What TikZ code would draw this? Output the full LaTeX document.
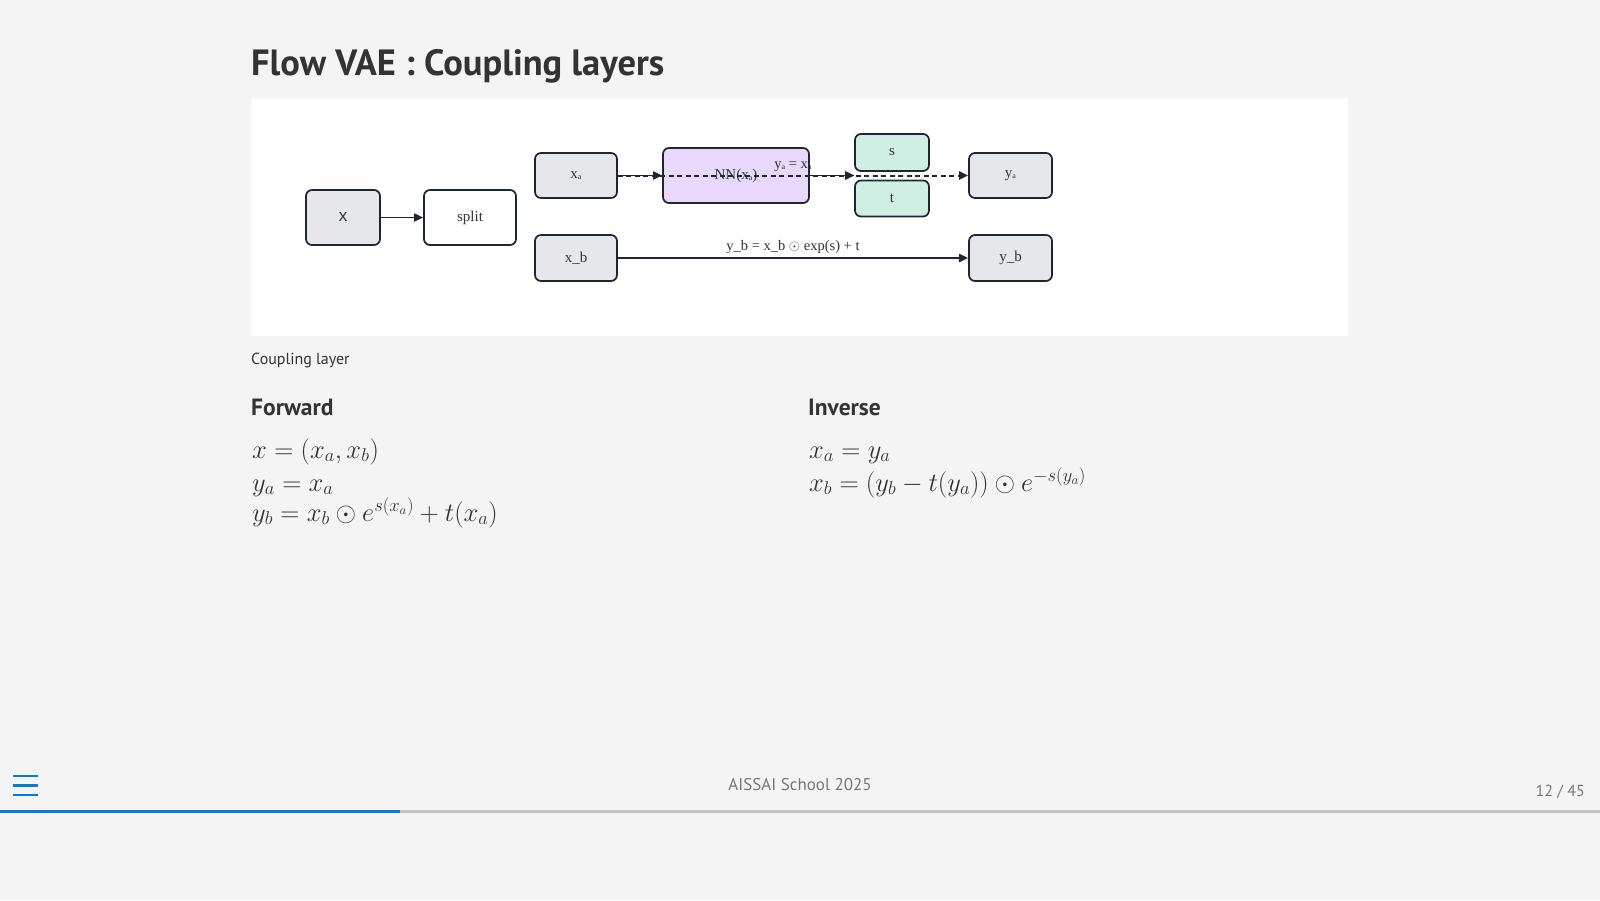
\RequirePackage{fix-cm}
\documentclass[tikz,border=0pt]{standalone}
\usepackage{fontspec}
\usetikzlibrary{arrows.meta}
\newfontfamily\uisans{PT Sans}
\newfontfamily\dserif{Liberation Serif}
\newfontfamily\dsans{Liberation Sans}
\definecolor{bg}{HTML}{F4F4F4}
\definecolor{titlec}{HTML}{333333}
\definecolor{boxline}{HTML}{1E2633}
\definecolor{grayfill}{HTML}{E5E7EB}
\definecolor{lav}{HTML}{E8D8FC}
\definecolor{mint}{HTML}{CFEFE5}
\definecolor{txt}{HTML}{333333}
\definecolor{footgray}{HTML}{777777}
\definecolor{barblue}{HTML}{0A7BD3}
\definecolor{bargray}{HTML}{C4C4C4}
\newcommand\suba{\raisebox{-0.2ex}{\fontsize{8}{8}\selectfont a}}
\begin{document}
\begin{tikzpicture}[x=1pt,y=-1pt,
  box/.style={draw=boxline, line width=1.7pt, rounded corners=6pt, inner sep=0pt, text=txt,
    font=\dserif\fontsize{15}{18}\selectfont},
  gbox/.style={box, fill=grayfill},
  arr/.style={draw=boxline, line width=1.8pt, -{Triangle[length=9pt,width=8pt]}},
  elabel/.style={text=txt, font=\dserif\fontsize{14.5}{16}\selectfont, inner sep=2pt},
  slidetext/.style={anchor=base west, inner sep=0pt, text=titlec},
  mathtext/.style={anchor=base west, inner sep=0pt, text=titlec, font=\fontsize{26.5}{30}\selectfont}]
\fill[bg] (0,0) rectangle (1600,900);
\useasboundingbox (0,0) rectangle (1600,900);
% title
\node[slidetext, font=\uisans\bfseries\fontsize{36.5}{44}\selectfont] (title) at (251,75.5) {Flow VAE : Coupling layers};
% panel
\fill[white] (251,98) rectangle (1348,336);
% nodes
\node[gbox, minimum width=74pt, minimum height=55pt, font=\dsans\fontsize{17}{20}\selectfont] (x) at (343,217.5) {x};
\node[box, fill=white, minimum width=92pt, minimum height=55pt] (split) at (470,217.5) {split};
\node[gbox, minimum width=82pt, minimum height=45pt] (xa) at (576,175.5) {x\suba};
\node[box, fill=lav, minimum width=146pt, minimum height=55pt] (NN) at (736,175.5) {NN(x\suba)};
\node[box, fill=mint, minimum width=74pt, minimum height=37pt] (s) at (892,152.5) {s};
\node[box, fill=mint, minimum width=74pt, minimum height=36pt] (t) at (892,198.5) {t};
\node[gbox, minimum width=83pt, minimum height=45pt] (ya) at (1010.5,175.5) {y\suba};
\node[gbox, minimum width=82pt, minimum height=46pt] (xb) at (576,258) {x\_b};
\node[gbox, minimum width=83pt, minimum height=46pt] (yb) at (1010.5,258) {y\_b};
% edges
\draw[arr] (x) -- (split);
\draw[arr] (xa) -- (NN);
\draw[arr] (NN.east) -- (NN.east -| s.west);
\draw[arr] (NN.east) -- (NN.east -| t.west);
\draw[arr, line width=2pt, dash pattern=on 5pt off 3.5pt] (xa) -- node[elabel, above, yshift=1pt] (lab1) {y\suba{} = x\suba} (ya);
\draw[arr] (xb) -- node[elabel, above, yshift=1pt] (lab2) {y\_b = x\_b $\odot$ exp(s) + t} (yb);
% caption
\node[slidetext, font=\uisans\fontsize{16}{19}\selectfont] (cap) at (251,364) {Coupling layer};
\node[slidetext, font=\uisans\bfseries\fontsize{23.5}{28}\selectfont] (fwd) at (251,415) {Forward};
\node[slidetext, font=\uisans\bfseries\fontsize{23.5}{28}\selectfont] (inv) at (808,415) {Inverse};
% math
\node[mathtext] (f1) at (252,458) {$x = (x_a, x_b)$};
\node[mathtext] (f2) at (252,491) {$y_a = x_a$};
\node[mathtext] (f3) at (252,521) {$y_b = x_b \odot e^{s(x_a)} + t(x_a)$};
\node[mathtext] (i1) at (809,458) {$x_a = y_a$};
\node[mathtext] (i2) at (809,491) {$x_b = (y_b - t(y_a)) \odot e^{-s(y_a)}$};
% footer
\foreach \yy in {776,785.5,795} \draw[barblue, line width=2.2pt] (13,\yy) -- (38,\yy);
\node[anchor=base, inner sep=0pt, text=footgray, font=\uisans\fontsize{17}{21}\selectfont] (foot) at (800,790) {AISSAI School 2025};
\node[anchor=base east, inner sep=0pt, text=footgray, font=\uisans\fontsize{16}{20}\selectfont] (page) at (1585,796) {12 / 45};
\fill[bargray] (400,810) rectangle (1600,813);
\fill[barblue] (0,810) rectangle (400,813);
\end{tikzpicture}
\end{document}
